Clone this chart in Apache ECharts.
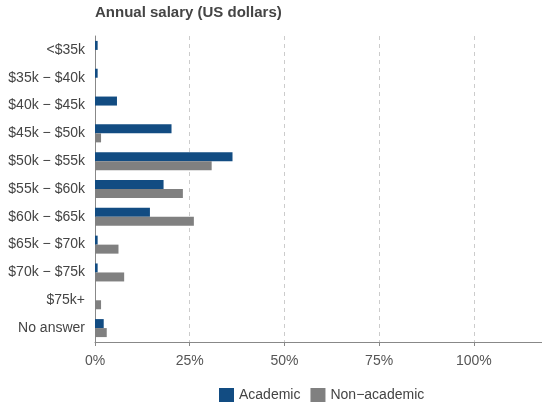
<!DOCTYPE html>
<html>
<head>
<meta charset="utf-8">
<script src="https://cdn.jsdelivr.net/npm/echarts@6/dist/echarts.min.js"></script>
<style>
  html, body { margin: 0; padding: 0; background: #fff; }
  #chart { width: 542px; height: 402px; }
</style>
</head>
<body>
<div id="chart"></div>
<script>
// salary bands, top to bottom
const categories = ['<$35k', '$35k \u2212 $40k', '$40k \u2212 $45k', '$45k \u2212 $50k', '$50k \u2212 $55k',
  '$55k \u2212 $60k', '$60k \u2212 $65k', '$65k \u2212 $70k', '$70k \u2212 $75k', '$75k+', 'No answer'];
// percent of respondents
const academic = [0.7, 0.7, 5.8, 20.2, 36.3, 18.1, 14.5, 0.7, 0.7, 0, 2.3];
const nonAcademic = [0, 0, 0, 1.6, 30.8, 23.2, 26.1, 6.2, 7.7, 1.6, 3.1];
const xTicks = [0, 25, 50, 75, 100];

const chart = echarts.init(document.getElementById('chart'));

chart.setOption({
  animation: false,
  title: {
    text: 'Annual salary (US dollars)',
    left: 90,
    top: 0,
    textStyle: { fontFamily: 'Liberation Sans', fontSize: 15, fontWeight: 'bold', color: '#444' }
  },
  legend: {
    top: 388,
    left: 219,
    padding: 0,
    itemWidth: 15,
    itemHeight: 15,
    itemGap: 10,
    icon: 'rect',
    textStyle: { fontFamily: 'Liberation Sans', fontSize: 14, color: '#444' },
    data: ['Academic', 'Non\u2212academic']
  },
  grid: { left: 95, right: 0, top: 36, height: 306 },
  xAxis: {
    type: 'value',
    min: 0,
    max: 118,
    interval: 25,
    axisLine: { show: true, lineStyle: { color: '#888' } },
    axisTick: { show: true, length: 4, customValues: xTicks, lineStyle: { color: '#888' } },
    splitLine: { show: true, lineStyle: { type: [4, 4], color: '#ccc' } },
    axisLabel: {
      fontFamily: 'Liberation Sans', fontSize: 14, color: '#555', margin: 12,
      customValues: xTicks,
      formatter: v => v + '%'
    }
  },
  yAxis: {
    type: 'category',
    inverse: true,
    data: categories,
    axisLine: { show: true, lineStyle: { color: '#888' } },
    axisTick: { show: false },
    axisLabel: { fontFamily: 'Liberation Sans', fontSize: 14, color: '#444', margin: 10 }
  },
  series: [
    {
      name: 'Academic',
      type: 'bar',
      data: academic,
      barWidth: 9,
      barGap: '0%',
      itemStyle: { color: '#124c82' }
    },
    {
      name: 'Non\u2212academic',
      type: 'bar',
      data: nonAcademic,
      barWidth: 9,
      itemStyle: { color: '#808080' }
    }
  ]
});
</script>
</body>
</html>
